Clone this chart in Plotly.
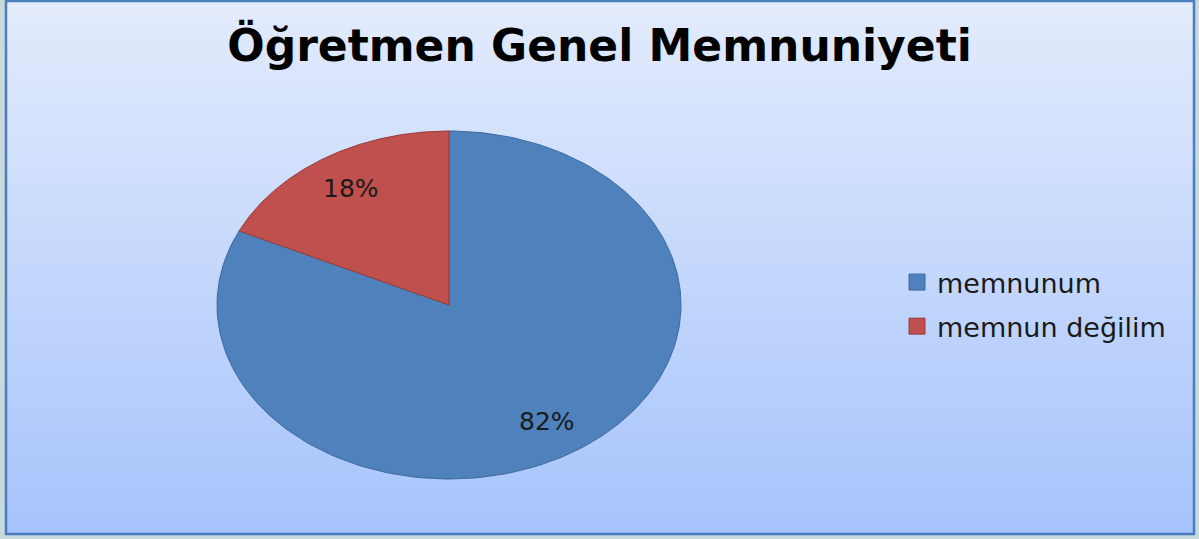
import numpy as np
import plotly.graph_objects as go

title = "Öğretmen Genel Memnuniyeti"
categories = ["memnunum", "memnun değilim"]
values = [82, 18]
colors = ["#4f81bd", "#c0504d"]
edge_colors = ["#3f6a9e", "#9a3b39"]
label_texts = ["82%", "18%"]

W, H = 1199, 539
cx_px, cy_px, rx_px, ry_px = 449, 305, 232, 174

fig = go.Figure()

total = float(sum(values))
fracs = [v / total for v in values]
start = 0.0
label_pos = []
for i, f in enumerate(fracs):
    a0 = start * 2 * np.pi
    a1 = (start + f) * 2 * np.pi
    t = np.linspace(a0, a1, 200)
    xs = np.concatenate([[0], np.sin(t), [0]])
    ys = np.concatenate([[0], np.cos(t), [0]])
    fig.add_trace(go.Scatter(x=xs, y=ys, mode="lines", fill="toself",
                             fillcolor=colors[i], line=dict(color=edge_colors[i], width=1),
                             showlegend=False, hoverinfo="skip"))
    am = (a0 + a1) / 2
    label_pos.append((0.79 * np.sin(am), 0.79 * np.cos(am)))
    start += f

for i, (lx, ly) in enumerate(label_pos):
    fig.add_annotation(x=lx, y=ly, text=label_texts[i], showarrow=False,
                       font=dict(family="DejaVu Sans", size=25, color="#1a1a1a"))

for i, c in enumerate(categories):
    fig.add_trace(go.Scatter(x=[None], y=[None], mode="markers", name=c, legendgroup=c,
                             marker=dict(symbol="square", size=16, color=colors[i],
                                         line=dict(color=edge_colors[i], width=1))))

# gradient background bands
shapes = []
n = 80
top = np.array([228, 236, 253])
bot = np.array([166, 196, 252])
for k in range(n):
    c = top + (bot - top) * (k + 0.5) / n
    shapes.append(dict(type="rect", xref="paper", yref="paper", x0=6 / W, x1=1194 / W,
                       y0=max(1 - 534 / H, 1 - (k + 1) / n), y1=1 - k / n + 0.002, layer="below",
                       fillcolor="rgb(%d,%d,%d)" % tuple(c.astype(int)), line=dict(width=0)))
# outer border
shapes.append(dict(type="rect", xref="paper", yref="paper",
                   x0=6 / W, x1=1194 / W, y0=1 - 534 / H, y1=1 - 1 / H,
                   line=dict(color="#4a7ebf", width=2.5), layer="above"))

xr = [-cx_px / rx_px, (W - cx_px) / rx_px]
yr = [-(H - cy_px) / ry_px, cy_px / ry_px]

fig.update_layout(
    width=W, height=H,
    margin=dict(l=0, r=0, t=0, b=0),
    paper_bgcolor="#c9d9dc",
    plot_bgcolor="rgba(0,0,0,0)",
    shapes=shapes,
    xaxis=dict(range=xr, visible=False, fixedrange=True),
    yaxis=dict(range=yr, visible=False, fixedrange=True),
    title=dict(text="<b>" + title + "</b>", x=0.5, xanchor="center", y=1 - 46 / H, yanchor="middle",
               font=dict(family="DejaVu Sans", size=44, color="#000000")),
    legend=dict(x=897 / W, y=1 - 258 / H, xanchor="left", yanchor="top",
                bgcolor="rgba(0,0,0,0)", font=dict(family="DejaVu Sans", size=27, color="#1a1a1a"),
                tracegroupgap=6, itemsizing="trace"),
    showlegend=True,
)

fig.write_html("out.html", config={"displayModeBar": False},
               post_script="document.body.style.margin='0';")
